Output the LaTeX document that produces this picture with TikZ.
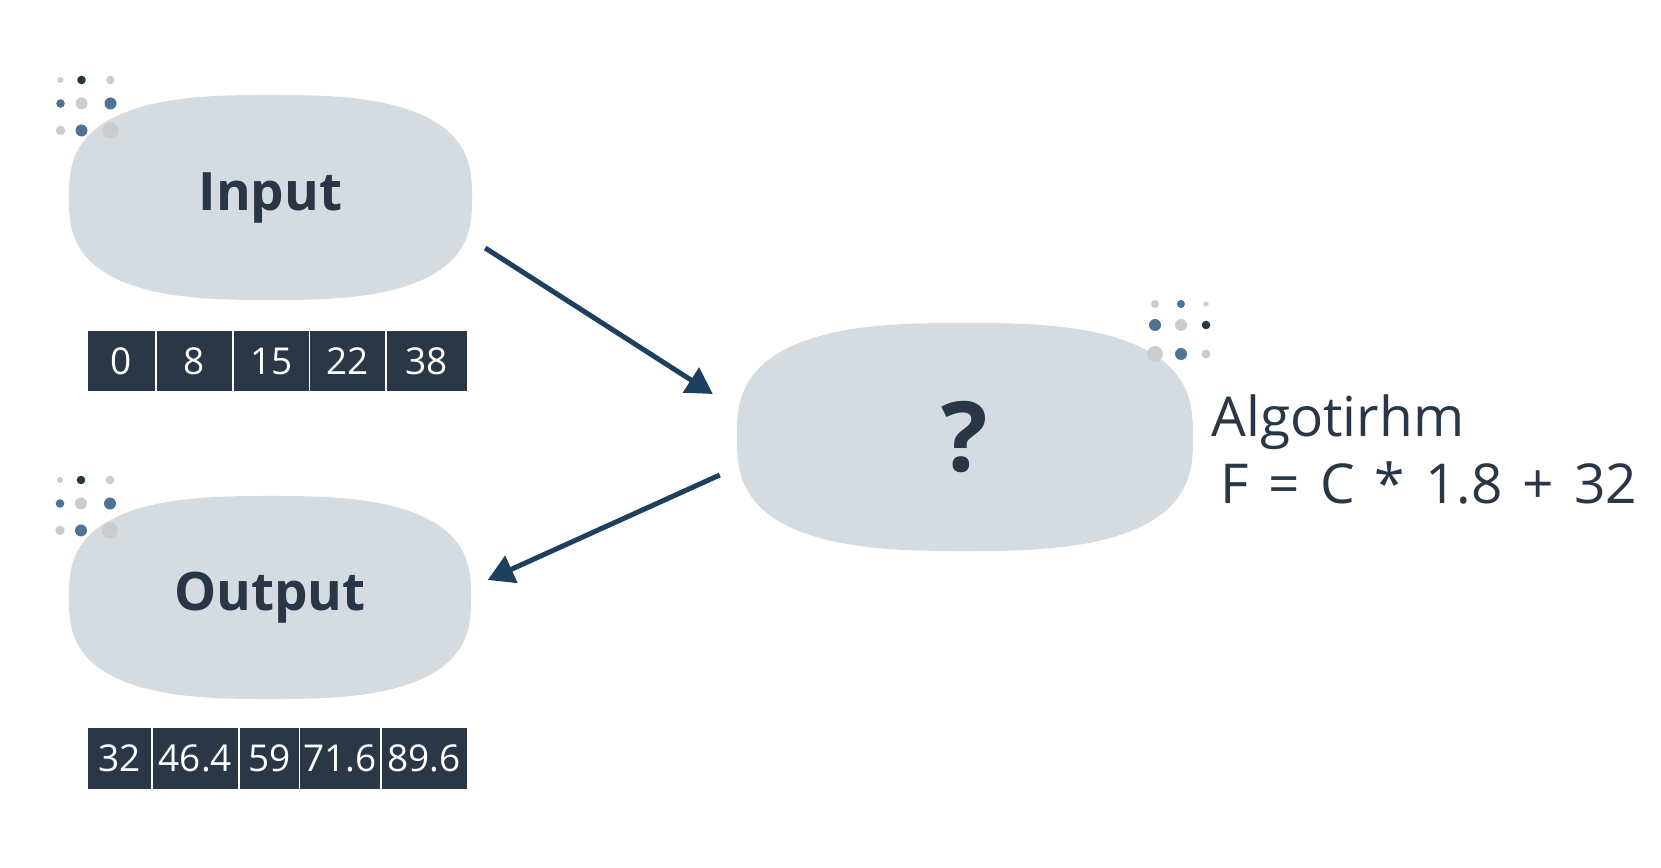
\documentclass[tikz,border=0pt]{standalone}
\usepackage{fontspec}
\setmainfont{Open Sans}
\usetikzlibrary{arrows.meta,positioning,backgrounds}

\definecolor{blobgray}{HTML}{D4DBE1}
\definecolor{ink}{HTML}{283645}
\definecolor{arrowblue}{HTML}{1E405E}
\definecolor{dotblue}{HTML}{4F7393}
\definecolor{dotgray}{HTML}{CCCCCC}
\definecolor{celldark}{HTML}{2A3746}

\begin{document}
\begin{tikzpicture}[x=1pt,y=1pt,>={Triangle[length=26pt,width=29pt]},
    blobnode/.style={minimum width=403pt,minimum height=205pt,inner sep=0pt,text=ink,font=\fontsize{53}{58}\selectfont\bfseries},
    cell/.style={fill=celldark,text=white,minimum height=60pt,inner sep=0pt,font=\fontsize{37}{42}\selectfont},
    flow/.style={->,arrowblue,line width=5pt},
    algtext/.style={inner sep=0pt,text=ink,font=\fontsize{55}{60}\selectfont}]
	\useasboundingbox (0,0) rectangle (1661,867);
	% blobs
	\node[blobnode] (inp) at (270.5,669.5) {Input};
	\node[blobnode,minimum height=203pt] (outp) at (270,269.5) {Output};
	\node[blobnode,minimum width=456pt,minimum height=228pt,font=\fontsize{97}{100}\selectfont\bfseries] (alg) at (965,430) {?};
	\begin{scope}[on background layer]
		\foreach \b/\rx/\ry in {inp/201.5/102.5,outp/201/101.5,alg/228/114}
			\fill[blobgray,shift={(\b.center)}] plot[domain=1:361,samples=181]
				({\rx*sign(cos(\x))*abs(cos(\x))^0.72},{\ry*sign(sin(\x))*abs(sin(\x))^0.72}) -- cycle;
	\end{scope}
	% dots
	\foreach \b in {inp,outp}
		\foreach \dx/\dy/\r/\c in {-210/117.5/3/dotgray,-189/117.5/4.3/ink,-160/117.5/4.3/dotgray,
				-210/94/4.3/dotblue,-189/94/6/dotgray,-160/94/6/dotblue,
				-210/67/4.7/dotgray,-189/67/6/dotblue,-160/67/8/dotgray}
			\fill[\c] ([shift={(\dx,\dy)}]\b.center) circle (\r);
	\foreach \dx/\dy/\r/\c in {190/133/4/dotgray,216/133/4/dotblue,241/133/2.7/dotgray,
			190/112/6/dotblue,216/112/6/dotgray,241/112/4.3/ink,
			190/83/8/dotgray,216/83/6/dotblue,241/83/4.5/dotgray}
		\fill[\c] ([shift={(\dx,\dy)}]alg.center) circle (\r);
	% arrays
	\coordinate (in_0) at (86.5,506);
	\foreach \v/\w [count=\i,remember=\i as \j (initially 0)] in {0/66.5,8/75.5,15/74.5,22/74.5,38/80}
		\node[cell,minimum width=\w pt,right=1.5pt of in_\j] (in_\i) {\v};
	\coordinate (out_0) at (86.5,108.5);
	\foreach \v/\w [count=\i,remember=\i as \j (initially 0)] in {32/62.5,46.4/85.5,59/58.5,71.6/79.5,89.6/85}
		\node[cell,minimum width=\w pt,minimum height=61pt,right=1.5pt of out_\j] (out_\i) {\v};
	% arrows
	\draw[flow] ([xshift=13pt,yshift=-50.5pt]inp.east) -- ([xshift=-24pt,yshift=43pt]alg.west);
	\draw[flow] ([xshift=-17pt,yshift=-38pt]alg.west) -- ([xshift=16pt,yshift=17.5pt]outp.east);
	% algorithm
	\node[algtext,anchor=base west] (alg_name) at ([xshift=18pt]alg.east) {Algotirhm};
	\node[algtext,anchor=base west] (alg_rule) at ([xshift=9pt,yshift=-67pt]alg_name.base west) {\spaceskip=20pt F = C * 1.8 + 32};
\end{tikzpicture}
\end{document}
